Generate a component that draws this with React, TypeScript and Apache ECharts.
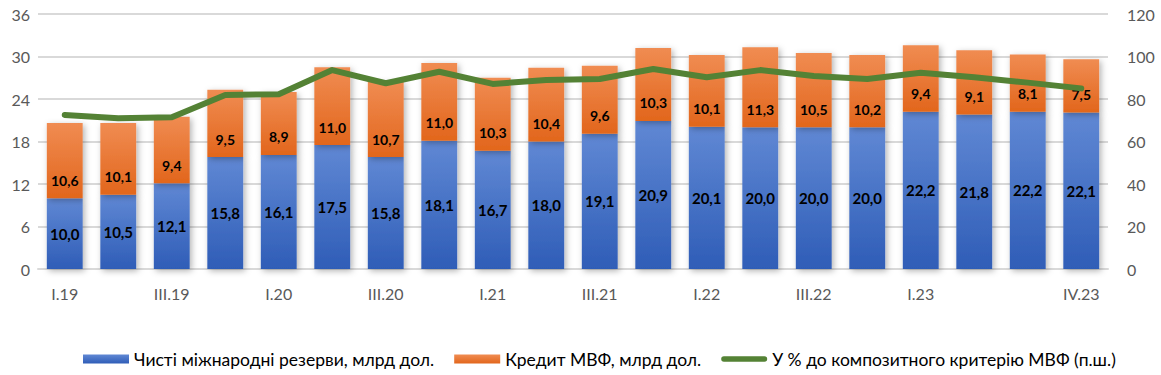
import React, { useEffect, useRef } from "react";
import * as echarts from "echarts";

const categories = [
  "I.19", "II.19", "III.19", "IV.19",
  "I.20", "II.20", "III.20", "IV.20",
  "I.21", "II.21", "III.21", "IV.21",
  "I.22", "II.22", "III.22", "IV.22",
  "I.23", "II.23", "III.23", "IV.23",
];
const netReserves = [10.0, 10.5, 12.1, 15.8, 16.1, 17.5, 15.8, 18.1, 16.7, 18.0, 19.1, 20.9, 20.1, 20.0, 20.0, 20.0, 22.2, 21.8, 22.2, 22.1];
const imfCredit = [10.6, 10.1, 9.4, 9.5, 8.9, 11.0, 10.7, 11.0, 10.3, 10.4, 9.6, 10.3, 10.1, 11.3, 10.5, 10.2, 9.4, 9.1, 8.1, 7.5];
const araPercent = [72.5, 70.9, 71.4, 81.9, 82.2, 93.6, 87.4, 92.8, 87.1, 88.9, 89.4, 94.1, 90.2, 93.6, 90.8, 89.4, 92.4, 90.2, 87.7, 85.0];
const shownLabels = ["I.19", "III.19", "I.20", "III.20", "I.21", "III.21", "I.22", "III.22", "I.23", "IV.23"];

const names = [
  "Чисті міжнародні резерви, млрд дол.",
  "Кредит МВФ, млрд дол.",
  "У % до композитного критерію МВФ (п.ш.)",
];

const fmt = (v: number) => v.toFixed(1).replace(".", ",");
const FONT = "Lato, 'Open Sans', sans-serif";

export default function App() {
  const ref = useRef<HTMLDivElement>(null);
  useEffect(() => {
    if (!ref.current) return;
    const chart = echarts.init(ref.current, undefined, { renderer: "svg" });
    const barShadow = {
      shadowBlur: 6,
      shadowColor: "rgba(0,0,0,0.3)",
      shadowOffsetX: 2,
      shadowOffsetY: 2,
    };
    chart.setOption({
      animation: false,
      textStyle: { fontFamily: FONT },
      grid: { left: 38, right: 53, top: 14, bottom: 106 },
      legend: {
        bottom: 2,
        left: 78,
        itemWidth: 46,
        itemHeight: 9,
        itemGap: 20,
        textStyle: { fontSize: 17.5, color: "#000", fontFamily: FONT },
        data: [
          { name: names[0], icon: "rect" },
          { name: names[1], icon: "rect" },
          {
            name: names[2],
            icon: "path://M3,0 H47 A3,3 0 0 1 47,6 H3 A3,3 0 0 1 3,0 Z",
          },
        ],
      },
      xAxis: {
        type: "category",
        data: categories,
        axisTick: { show: false },
        axisLine: { lineStyle: { color: "#d9d9d9", width: 2 } },
        axisLabel: {
          color: "#595959",
          fontSize: 16,
          margin: 16,
          interval: (i: number, v: string) => shownLabels.includes(v),
        },
      },
      yAxis: [
        {
          type: "value",
          min: 0,
          max: 36,
          interval: 6,
          axisLabel: { color: "#595959", fontSize: 16, margin: 8 },
          splitLine: { lineStyle: { color: "#d9d9d9", width: 2 } },
        },
        {
          type: "value",
          min: 0,
          max: 120,
          interval: 20,
          position: "right",
          axisLabel: { color: "#595959", fontSize: 16, margin: 19 },
          splitLine: { show: false },
        },
      ],
      series: [
        {
          name: names[0],
          type: "bar",
          stack: "total",
          data: netReserves,
          barCategoryGap: "33%",
          itemStyle: {
            color: new echarts.graphic.LinearGradient(0, 0, 0, 1, [
              { offset: 0, color: "#6088d4" },
              { offset: 1, color: "#2f5db7" },
            ]),
            ...barShadow,
          },
          label: {
            show: true,
            position: "inside",
            color: "#000",
            fontWeight: "bold",
            fontSize: 15,
            fontFamily: FONT,
            formatter: (p: any) => fmt(p.value),
          },
        },
        {
          name: names[1],
          type: "bar",
          stack: "total",
          data: imfCredit,
          itemStyle: {
            color: new echarts.graphic.LinearGradient(0, 0, 0, 1, [
              { offset: 0, color: "#f08c52" },
              { offset: 1, color: "#e2661c" },
            ]),
            ...barShadow,
          },
          label: {
            show: true,
            position: "insideBottom",
            distance: 11,
            color: "#000",
            fontWeight: "bold",
            fontSize: 14,
            fontFamily: FONT,
            formatter: (p: any) => fmt(p.value),
          },
        },
        {
          name: names[2],
          type: "line",
          yAxisIndex: 1,
          data: araPercent,
          showSymbol: false,
          symbol: "none",
          itemStyle: { color: "#548235" },
          lineStyle: { color: "#548235", width: 6, cap: "round", join: "round" },
          z: 5,
        },
      ],
    });
    return () => chart.dispose();
  }, []);
  return (
    <div
      ref={ref}
      style={{ position: "absolute", left: 0, top: 0, width: 1161, height: 375 }}
    />
  );
}
